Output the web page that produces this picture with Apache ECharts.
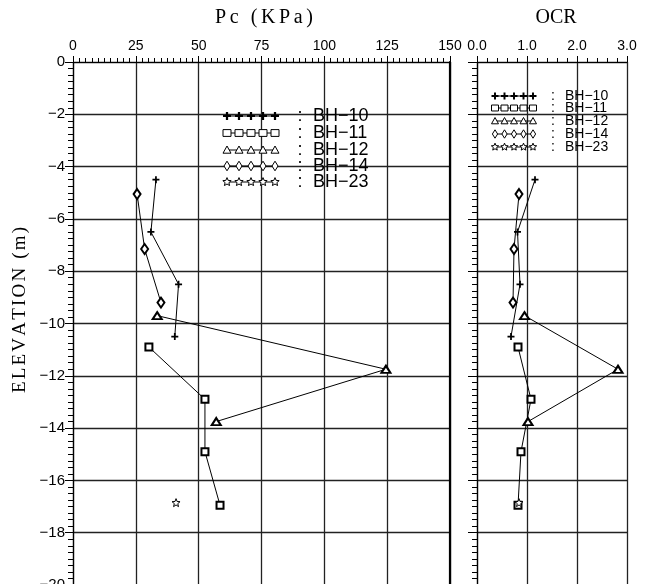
<!DOCTYPE html>
<html><head><meta charset="utf-8">
<script src="https://cdn.jsdelivr.net/npm/echarts@6/dist/echarts.min.js"></script>
<style>html,body{margin:0;padding:0;background:#fff}#c{width:648px;height:584px}</style>
</head><body><div id="c"></div>
<script>
// ---- data ----
const seriesNames = ['BH-10', 'BH-11', 'BH-12', 'BH-14', 'BH-23'];
const bh10Elev = [-4.5, -6.5, -8.5, -10.5];
const bh10Pc   = [33, 31, 42, 40.5];
const bh10Ocr  = [1.16, 0.81, 0.86, 0.68];
const bh11Elev = [-10.9, -12.9, -14.9, -16.95];
const bh11Pc   = [30.2, 52.5, 52.5, 58.5];
const bh11Ocr  = [0.82, 1.08, 0.88, 0.82];
const bh12Elev = [-9.7, -11.75, -13.75];
const bh12Pc   = [33.5, 124.5, 57];
const bh12Ocr  = [0.95, 2.82, 1.02];
const bh14Elev = [-5.05, -7.15, -9.2];
const bh14Pc   = [25.5, 28.5, 35];
const bh14Ocr  = [0.84, 0.74, 0.72];
const bh23Elev = [-16.85];
const bh23Pc   = [41];
const bh23Ocr  = [0.84];
const pcTicks = [0, 25, 50, 75, 100, 125, 150];
const ocrTicks = [0, 1, 2, 3];
const elevTicks = [0, -2, -4, -6, -8, -10, -12, -14, -16, -18, -20];
const pcTitle = 'Pc (KPa)';
const ocrTitle = 'OCR';
const elevTitle = 'ELEVATION (m)';

// ---- symbols ----
function starPts(cx, cy, R, r) {
  const p = [];
  for (let i = 0; i < 10; i++) {
    const a = -Math.PI / 2 + i * Math.PI / 5, rr = i % 2 ? r : R;
    p.push([cx + rr * Math.cos(a), cy + rr * Math.sin(a)]);
  }
  return p;
}
const starPath = 'path://' + starPts(10, 10, 10, 4.3).map((p, i) => (i ? 'L' : 'M') + p[0].toFixed(2) + ',' + p[1].toFixed(2)).join('') + 'Z';
const plusPath = 'path://M3,0H5V3H8V5H5V8H3V5H0V3H3Z';

const defs = [
  { elev: bh10Elev, pc: bh10Pc, ocr: bh10Ocr, symbol: plusPath, size: 7, kind: 'plus' },
  { elev: bh11Elev, pc: bh11Pc, ocr: bh11Ocr, symbol: 'emptyRect', size: 7, kind: 'rect' },
  { elev: bh12Elev, pc: bh12Pc, ocr: bh12Ocr, symbol: 'emptyTriangle', size: [9, 7], kind: 'tri' },
  { elev: bh14Elev, pc: bh14Pc, ocr: bh14Ocr, symbol: 'emptyDiamond', size: [7, 10], kind: 'dia' },
  { elev: bh23Elev, pc: bh23Pc, ocr: bh23Ocr, symbol: starPath, size: 8, kind: 'star' }
];

const series = [];
defs.forEach((d, k) => {
  const common = {
    name: seriesNames[k], type: 'line', symbol: d.symbol, symbolSize: d.size,
    lineStyle: { color: '#000', width: 1 },
    itemStyle: d.kind === 'star' ? { color: '#fff', borderColor: '#000', borderWidth: 1 } : { color: '#000' },
    showAllSymbol: true, z: 5, animation: false
  };
  series.push(Object.assign({}, common, { xAxisIndex: 0, yAxisIndex: 0, data: d.pc.map((v, i) => [v, d.elev[i]]) }));
  series.push(Object.assign({}, common, { xAxisIndex: 1, yAxisIndex: 1, data: d.ocr.map((v, i) => [v, d.elev[i]]) }));
});

// ---- legend graphics ----
function marker(kind, cx, cy, s) {
  const st = { fill: '#fff', stroke: '#000', lineWidth: 1 };
  const h = s / 2;
  if (kind === 'plus') {
    const a = s * 0.14;
    return { type: 'polygon', shape: { points: [[cx - a, cy - h], [cx + a, cy - h], [cx + a, cy - a], [cx + h, cy - a], [cx + h, cy + a], [cx + a, cy + a], [cx + a, cy + h], [cx - a, cy + h], [cx - a, cy + a], [cx - h, cy + a], [cx - h, cy - a], [cx - a, cy - a]] }, style: { fill: '#000' }, z: 10 };
  }
  if (kind === 'rect') return { type: 'rect', shape: { x: cx - h, y: cy - h * 0.85, width: s, height: s * 0.85 }, style: st, z: 10 };
  if (kind === 'tri') return { type: 'polygon', shape: { points: [[cx, cy - h], [cx + h, cy + h * 0.8], [cx - h, cy + h * 0.8]] }, style: st, z: 10 };
  if (kind === 'dia') return { type: 'polygon', shape: { points: [[cx, cy - h * 1.2], [cx + h * 0.75, cy], [cx, cy + h * 1.2], [cx - h * 0.75, cy]] }, style: st, z: 10 };
  return { type: 'polygon', shape: { points: starPts(cx, cy, h * 1.1, h * 0.5) }, style: st, z: 10 };
}
const graphics = [];
function legendBlock(ys, x1, x2, colonX, textX, fs, ms) {
  defs.forEach((d, k) => {
    const y = ys[k];
    graphics.push({ type: 'line', shape: { x1: x1, y1: y, x2: x2, y2: y }, style: { stroke: '#000', lineWidth: 1 }, z: 9 });
    for (let j = 0; j < 5; j++) graphics.push(marker(d.kind, x1 + 2 + j * (x2 - x1 - 4) / 4, y, ms));
    graphics.push({ type: 'text', x: colonX, y: y, style: { text: ':', fontSize: fs, fontFamily: 'Liberation Sans', fill: '#000', align: 'center', verticalAlign: 'middle' }, z: 10 });
    graphics.push({ type: 'text', x: textX, y: y, style: { text: seriesNames[k].replace('-', '\u2212'), fontSize: fs, fontFamily: 'Liberation Sans', fill: '#000', align: 'left', verticalAlign: 'middle' }, z: 10 });
  });
}
legendBlock([116, 133, 150, 166, 182], 225, 277, 300, 313, 18, 8);
legendBlock([96, 108, 121, 134, 147], 493, 535, 553, 565, 14, 7);

function spaced(str, key) {
  return str.split('').map(c => '{' + key + '|' + c + '}').join('');
}
graphics.push({ type: 'text', x: 264, y: 18, style: { text: spaced(pcTitle, 's'), rich: { s: { fontSize: 20, fontFamily: 'Liberation Serif', fill: '#000', padding: [0, 1.8, 0, 1.8] } }, align: 'center', verticalAlign: 'middle' } });
graphics.push({ type: 'text', x: 556, y: 18, style: { text: ocrTitle, fontSize: 20, fontFamily: 'Liberation Serif', fill: '#000', align: 'center', verticalAlign: 'middle' } });
graphics.push({ type: 'text', x: 20, y: 310, rotation: Math.PI / 2, style: { text: spaced(elevTitle, 'e'), rich: { e: { fontSize: 19, fontFamily: 'Liberation Serif', fill: '#000', padding: [0, 1.1, 0, 1.1] } }, align: 'center', verticalAlign: 'middle' } });

const lblStyle = { color: '#000', fontSize: 14, fontFamily: 'Liberation Sans' };
const gridLine = { show: true, lineStyle: { color: '#222', width: 1.3 } };
const minus = v => v === 0 ? '0' : (v < 0 ? '\u2212' + Math.abs(v) : String(v));

const option = {
  animation: false,
  backgroundColor: '#fff',
  grid: [
    { left: 73, top: 62, width: 377, height: 523, outerBoundsMode: 'none', containLabel: false },
    { left: 477, top: 62, width: 150, height: 523, outerBoundsMode: 'none', containLabel: false }
  ],
  xAxis: [
    { gridIndex: 0, type: 'value', position: 'top', min: pcTicks[0], max: pcTicks[pcTicks.length - 1], interval: pcTicks[1] - pcTicks[0],
      axisLine: { show: true, lineStyle: { color: '#000', width: 1.2 } },
      axisTick: { show: true, inside: false, length: 6, lineStyle: { color: '#000' } },
      minorTick: { show: true, splitNumber: 10, length: 4, lineStyle: { color: '#000' } },
      axisLabel: Object.assign({ margin: 9, formatter: v => String(v) }, lblStyle),
      splitLine: gridLine },
    { gridIndex: 1, type: 'value', position: 'top', min: ocrTicks[0], max: ocrTicks[ocrTicks.length - 1], interval: ocrTicks[1] - ocrTicks[0],
      axisLine: { show: true, lineStyle: { color: '#000', width: 1.2 } },
      axisTick: { show: true, inside: false, length: 6, lineStyle: { color: '#000' } },
      minorTick: { show: true, splitNumber: 5, length: 4, lineStyle: { color: '#000' } },
      axisLabel: Object.assign({ margin: 9, formatter: v => v.toFixed(1) }, lblStyle),
      splitLine: gridLine }
  ],
  yAxis: [
    { gridIndex: 0, type: 'value', min: elevTicks[elevTicks.length - 1], max: elevTicks[0], interval: 2,
      axisLine: { show: true, lineStyle: { color: '#000', width: 1.2 } },
      axisTick: { show: true, inside: false, length: 8, lineStyle: { color: '#000' } },
      minorTick: { show: true, splitNumber: 8, length: 5, lineStyle: { color: '#000' } },
      axisLabel: Object.assign({ margin: 8, formatter: minus }, lblStyle, { fontSize: 15 }),
      splitLine: gridLine },
    { gridIndex: 1, type: 'value', min: elevTicks[elevTicks.length - 1], max: elevTicks[0], interval: 2,
      axisLine: { show: true, lineStyle: { color: '#000', width: 1.2 } },
      axisTick: { show: true, inside: false, length: 9, lineStyle: { color: '#000' } },
      minorTick: { show: true, splitNumber: 8, length: 5, lineStyle: { color: '#000' } },
      axisLabel: { show: false },
      splitLine: gridLine },
    { gridIndex: 0, type: 'value', position: 'right', min: elevTicks[elevTicks.length - 1], max: elevTicks[0], interval: 2,
      axisLine: { show: true, lineStyle: { color: '#000', width: 2.2 } },
      axisTick: { show: false }, axisLabel: { show: false }, splitLine: { show: false } }
  ],
  graphic: graphics,
  series: series
};
const chart = echarts.init(document.getElementById('c'), null, { renderer: 'canvas' });
chart.setOption(option);
</script>
</body></html>
